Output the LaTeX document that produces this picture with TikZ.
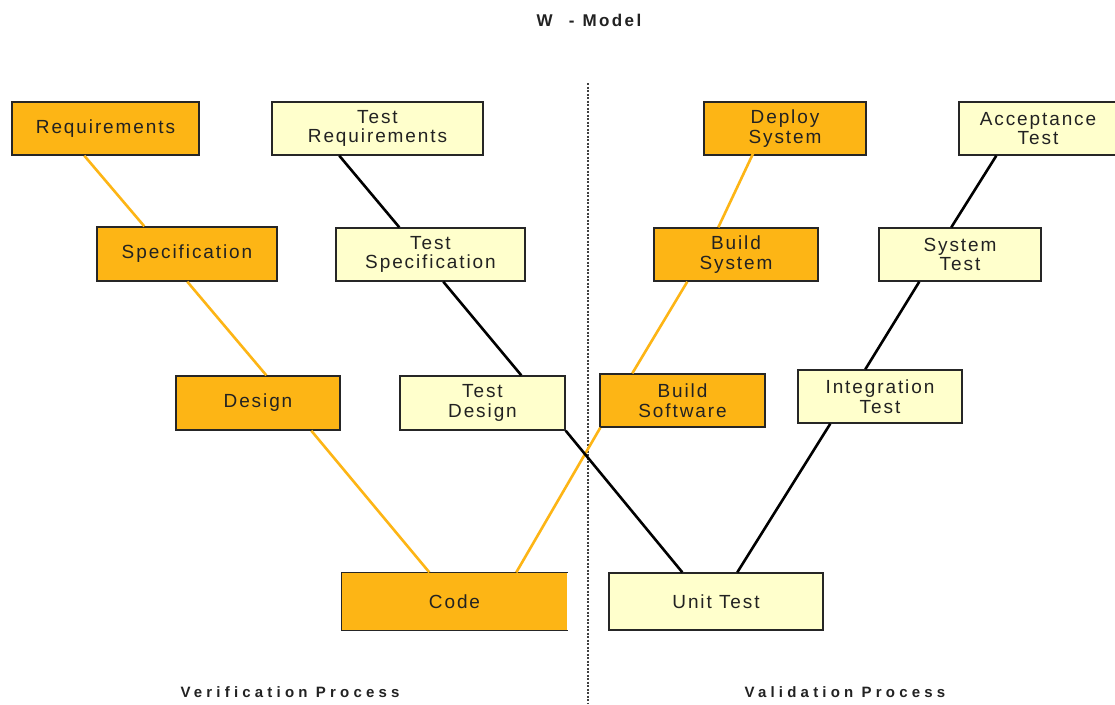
\documentclass[tikz,border=0pt]{standalone}
\usepackage{fontspec}
\setmainfont{Liberation Sans}
\newfontfamily\boxfont[LetterSpace=10]{Liberation Sans}
\newfontfamily\headfont[LetterSpace=28]{Liberation Sans}
\newfontfamily\titlefont[LetterSpace=14]{Liberation Sans}
\definecolor{orangefill}{HTML}{FDB515}
\definecolor{paleyellow}{HTML}{FFFFCC}
\definecolor{txt}{HTML}{222222}
\tikzset{
  box/.style={draw=black!85, line width=1.4pt, inner sep=0pt, align=center, text=txt,
    font=\boxfont\fontsize{19}{19.5}\selectfont,
    execute at begin node={\vspace*{3pt}}},
  obox/.style={box, fill=orangefill},
  ybox/.style={box, fill=paleyellow},
  oline/.style={draw=orangefill, line width=2.6pt},
  bline/.style={draw=black, line width=2.6pt},
  head/.style={font=\headfont\bfseries\fontsize{15}{18}\selectfont, text=txt},
}
\begin{document}
\begin{tikzpicture}[x=1pt,y=-1pt]
\useasboundingbox (0,0) rectangle (1115,704);
\clip (0,0) rectangle (1115,704);
\fill[white] (0,0) rectangle (1115,704);

\node[font=\titlefont\bfseries\fontsize{17}{18}\selectfont, text=txt] (title) at (589,20) {W\hspace{9pt} -\hspace{1pt} Model};
\node[head] (verif) at (290,692) {Verification Process};
\node[head] (valid) at (845,692) {Validation Process};

\coordinate (dtop) at (588,83);
\coordinate (dbot) at (588,704);
\draw[black!75, line width=1.1pt, dash pattern=on 2pt off 1.5pt] (dtop) -- (dbot);

% left V
\node[obox, minimum width=187pt, minimum height=53pt] (req) at (105.5,128.5) {Requirements};
\node[obox, minimum width=180pt, minimum height=54pt] (spec) at (187,254) {Specification};
\node[obox, minimum width=164pt, minimum height=54pt] (design) at (258,403) {Design};
\node[box, draw=none, fill=orangefill, minimum width=225pt, minimum height=57pt] (code) at (454.5,601.5) {Code};
\draw[black!85, line width=1.4pt] (code.north east) -- (code.north west) -- (code.south west) -- (code.south east);

\node[ybox, minimum width=211pt, minimum height=53pt] (treq) at (377.5,128.5) {Test\\Requirements};
\node[ybox, minimum width=189pt, minimum height=53pt] (tspec) at (430.5,254.5) {Test\\Specification};
\node[ybox, minimum width=165pt, minimum height=54pt] (tdesign) at (482.5,403) {Test\\Design};
\node[ybox, minimum width=214pt, minimum height=57pt] (unit) at (716,601.5) {Unit Test};

% right V
\node[obox, minimum width=162pt, minimum height=53pt] (deploy) at (785,128.5) {Deploy\\System};
\node[obox, minimum width=164pt, minimum height=53pt] (bsys) at (736,254.5) {Build\\System};
\node[obox, minimum width=165pt, minimum height=53pt] (bsoft) at (682.5,400.5) {Build\\Software};

\node[ybox, minimum width=158pt, minimum height=53pt] (accept) at (1038,128.5) {Acceptance\\Test};
\node[ybox, minimum width=162pt, minimum height=53pt] (stest) at (960,254.5) {System\\Test};
\node[ybox, minimum width=164pt, minimum height=53pt] (integ) at (880,396.5) {Integration\\Test};

% orange connectors
\draw[oline] ([xshift=73pt]req.south west) -- ([xshift=48pt]spec.north west);
\draw[oline] ([xshift=91pt]spec.south west) -- ([xshift=91pt]design.north west);
\draw[oline] ([xshift=136pt]design.south west) -- ([xshift=88pt]code.north west);
\draw[oline] ([xshift=175pt]code.north west) -- ([xshift=1pt]bsoft.south west);
\draw[oline] ([xshift=33pt]bsoft.north west) -- ([xshift=34pt]bsys.south west);
\draw[oline] ([xshift=65pt]bsys.north west) -- ([xshift=53pt,yshift=9pt]deploy.south west);

% black connectors
\draw[bline] ([xshift=68pt]treq.south west) -- ([xshift=64pt]tspec.north west);
\draw[bline] ([xshift=108pt]tspec.south west) -- ([xshift=122pt]tdesign.north west);
\draw[bline] (tdesign.south east) -- ([xshift=74pt]unit.north west);
\draw[bline] ([xshift=129pt]unit.north west) -- ([xshift=33pt]integ.south west);
\draw[bline] ([xshift=68pt]integ.north west) -- ([xshift=41pt]stest.south west);
\draw[bline] ([xshift=73pt]stest.north west) -- ([xshift=38pt]accept.south west);
\end{tikzpicture}
\end{document}
